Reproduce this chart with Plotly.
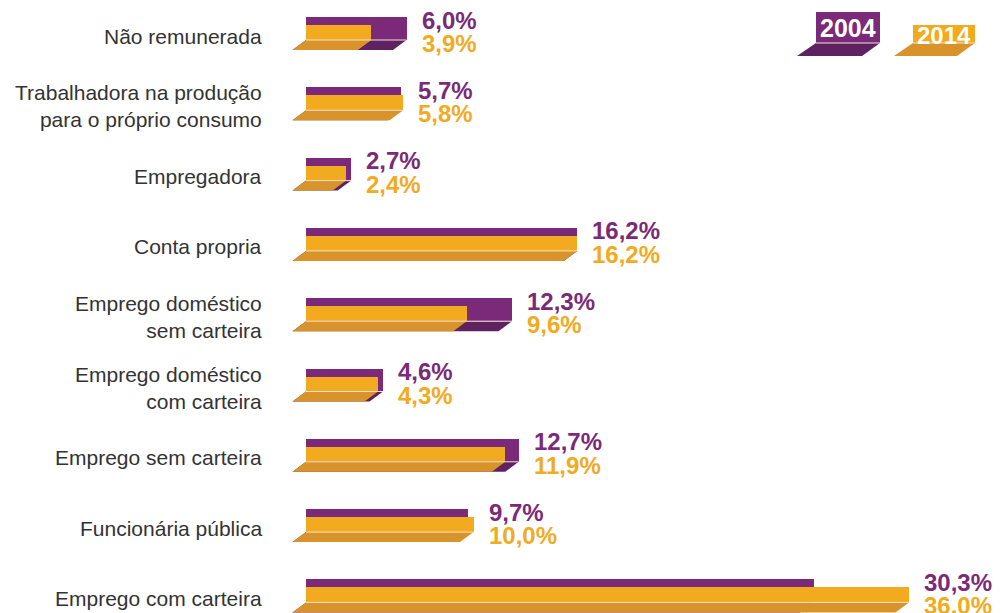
import plotly.graph_objects as go

# ---------------- data ----------------
categories = [
    "Não remunerada",
    "Trabalhadora na produção<br>para o próprio consumo",
    "Empregadora",
    "Conta propria",
    "Emprego doméstico<br>sem carteira",
    "Emprego doméstico<br>com carteira",
    "Emprego sem carteira",
    "Funcionária pública",
    "Emprego com carteira",
]
values_2004 = [6.0, 5.7, 2.7, 16.2, 12.3, 4.6, 12.7, 9.7, 30.3]
values_2014 = [3.9, 5.8, 2.4, 16.2, 9.6, 4.3, 11.9, 10.0, 36.0]
series_names = ["2004", "2014"]

# ---------------- style ----------------
PURPLE = "#7A2A78"
PURPLE_FLOOR = "#5E2260"
ORANGE = "#F2AA1F"
ORANGE_FLOOR = "#D8942B"
SEP_LINE = "#F6E2D2"
W, H = 1002, 613
ML = 270                      # left margin (px)
PX_PER_UNIT_X = 16.75         # px per percent
ZERO_PX = 306                 # pixel of x = 0
ROW_PX = 70.3                 # px per row
ROW0_PX = 33.5                # pixel of centre of first row

x_min = (ML - ZERO_PX) / PX_PER_UNIT_X
x_max = (W - ZERO_PX) / PX_PER_UNIT_X
y_top = -ROW0_PX / ROW_PX
y_bot = (H - ROW0_PX) / ROW_PX

def dy(px):   # pixel offset -> y units
    return px / ROW_PX

def dx(px):
    return px / PX_PER_UNIT_X

rows = list(range(len(categories)))

fig = go.Figure()
fig.add_trace(go.Bar(
    name=series_names[0], orientation="h", x=values_2004, y=rows,
    width=dy(23), offset=dy(-16.5), marker=dict(color=PURPLE, line=dict(width=0)),
    hoverinfo="x", showlegend=False))
fig.add_trace(go.Bar(
    name=series_names[1], orientation="h", x=values_2014, y=rows,
    width=dy(15), offset=dy(-8.5), marker=dict(color=ORANGE, line=dict(width=0)),
    hoverinfo="x", showlegend=False))

shapes = []
annotations = []
skew = dx(13.5)
VAL_FONT = "Liberation Sans, Arial"
for i, (cat, vp, vo) in enumerate(zip(categories, values_2004, values_2014)):
    yt = i + dy(6.5)
    yb = i + dy(16.5)
    for v, col in ((vp, PURPLE_FLOOR), (vo, ORANGE_FLOOR)):
        path = f"M 0 {yt} L {v} {yt} L {v - skew} {yb} L {-skew} {yb} Z"
        shapes.append(dict(type="path", path=path, xref="x", yref="y",
                           fillcolor=col, line=dict(width=0), layer="above"))
    shapes.append(dict(type="line", xref="x", yref="y", x0=0, x1=max(vp, vo),
                       y0=yt, y1=yt, line=dict(color=SEP_LINE, width=1), layer="above"))
    xm = max(vp, vo)
    annotations.append(dict(x=xm, y=i + dy(-13.5), xref="x", yref="y", xanchor="left",
                            yanchor="middle", xshift=13, showarrow=False,
                            text=f"{vp:.1f}%".replace(".", ","),
                            font=dict(family=VAL_FONT, size=24,
                                      color=PURPLE, weight="bold")))
    annotations.append(dict(x=xm, y=i + dy(10), xref="x", yref="y", xanchor="left",
                            yanchor="middle", xshift=13, showarrow=False,
                            text=f"{vo:.1f}%".replace(".", ","),
                            font=dict(family=VAL_FONT, size=24,
                                      color=ORANGE, weight="bold")))
    # category label
    annotations.append(dict(x=0, y=i + dy(2.5), xref="paper", yref="y", xanchor="right",
                            yanchor="middle", xshift=-6, align="right", showarrow=False,
                            text=cat,
                            font=dict(family="Liberation Sans, Arial", size=21,
                                      color="#333333")))

# ---------------- legend (decorative, paper coords) ----------------
PW = W - ML
def px(xp):
    return (xp - ML) / PW
def py(yp):
    return 1 - yp / H

legend_items = [
    (series_names[0], PURPLE, PURPLE_FLOOR, 816, 880, 12, 43, 25),
    (series_names[1], ORANGE, ORANGE_FLOOR, 913, 975, 25, 43, 24),
]
for name, col, fcol, x0, x1, y0, y1, fs in legend_items:
    shapes.append(dict(type="rect", xref="paper", yref="paper",
                       x0=px(x0), x1=px(x1), y0=py(y1), y1=py(y0),
                       fillcolor=col, line=dict(width=0), layer="above"))
    path = (f"M {px(x0)} {py(y1)} L {px(x1)} {py(y1)} L {px(x1 - 18)} {py(y1 + 13)} "
            f"L {px(x0 - 19)} {py(y1 + 13)} Z")
    shapes.append(dict(type="path", path=path, xref="paper", yref="paper",
                       fillcolor=fcol, line=dict(width=0), layer="above"))
    shapes.append(dict(type="line", xref="paper", yref="paper", x0=px(x0), x1=px(x1),
                       y0=py(y1), y1=py(y1), line=dict(color=SEP_LINE, width=1),
                       layer="above"))
    annotations.append(dict(x=px((x0 + x1) / 2), y=py((y0 + y1) / 2 + 1), xref="paper",
                            yref="paper", xanchor="center", yanchor="middle",
                            showarrow=False, text=name,
                            font=dict(family=VAL_FONT, size=fs,
                                      color="white", weight="bold")))

fig.update_layout(
    width=W, height=H,
    margin=dict(l=ML, r=0, t=0, b=0),
    paper_bgcolor="white", plot_bgcolor="white",
    barmode="overlay", bargap=0,
    showlegend=False,
    xaxis=dict(range=[x_min, x_max], visible=False, fixedrange=True),
    yaxis=dict(range=[y_bot, y_top], visible=False, fixedrange=True),
    shapes=shapes,
    annotations=annotations,
)

fig.write_html("out.html")
